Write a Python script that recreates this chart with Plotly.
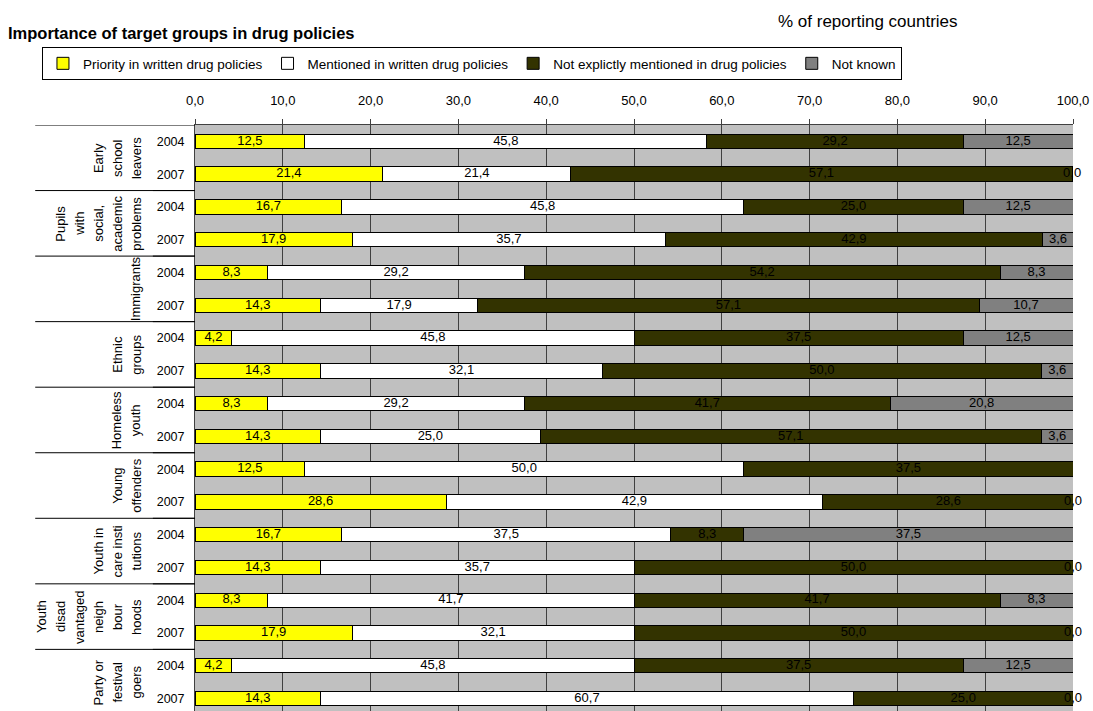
import plotly.graph_objects as go

# data (% of reporting countries)
groups = [
    ["Early", "school", "leavers"],
    ["Pupils", "with", "social,", "academic", "problems"],
    ["Immigrants"],
    ["Ethnic", "groups"],
    ["Homeless", "youth"],
    ["Young", "offenders"],
    ["Youth in", "care insti", "tutions"],
    ["Youth", "disad", "vantaged", "neigh", "bour", "hoods"],
    ["Party or", "festival", "goers"],
]
years = ["2004", "2007"] * len(groups)

priority = [12.5, 21.4, 16.7, 17.9, 8.3, 14.3, 4.2, 14.3, 8.3, 14.3,
            12.5, 28.6, 16.7, 14.3, 8.3, 17.9, 4.2, 14.3]
mentioned = [45.8, 21.4, 45.8, 35.7, 29.2, 17.9, 45.8, 32.1, 29.2, 25.0,
             50.0, 42.9, 37.5, 35.7, 41.7, 32.1, 45.8, 60.7]
not_mentioned = [29.2, 57.1, 25.0, 42.9, 54.2, 57.1, 37.5, 50.0, 41.7, 57.1,
                 37.5, 28.6, 8.3, 50.0, 41.7, 50.0, 37.5, 25.0]
not_known = [12.5, 0.0, 12.5, 3.6, 8.3, 10.7, 12.5, 3.6, 20.8, 3.6,
             None, 0.0, 37.5, 0.0, 8.3, 0.0, 12.5, 0.0]

series = [
    ("Priority in written drug policies", priority, "#FFFF00"),
    ("Mentioned in written drug policies", mentioned, "#FFFFFF"),
    ("Not explictly mentioned in drug policies", not_mentioned, "#333300"),
    ("Not known", not_known, "#808080"),
]

FONT = "Liberation Sans, Arial, sans-serif"
XMAX = 100
rows = list(range(len(years)))

fig = go.Figure()
lab_x, lab_y, lab_t = [], [], []
base = [0.0] * len(rows)
for name, vals, col in series:
    fig.add_trace(go.Bar(
        y=rows, x=vals, name=name, orientation="h", width=0.44,
        marker=dict(color=col, line=dict(color="#000000", width=1)),
        hoverinfo="x+name",
    ))
    for i, v in enumerate(vals):
        if v is None:
            continue
        # rounded shares can add up to 100.1, keep the label on the axis
        lab_x.append(min(base[i] + v / 2, XMAX))
        lab_y.append(i)
        lab_t.append(f"{v:.1f}".replace(".", ","))
        base[i] += v

fig.add_trace(go.Scatter(
    x=lab_x, y=lab_y, text=lab_t, mode="text", showlegend=False,
    cliponaxis=False,
    textfont=dict(family=FONT, size=13, color="#000000"), hoverinfo="skip",
))

# category axis separators and rotated group labels (one annotation per line)
shapes = []
annotations = []
for k, lines in enumerate(groups):
    top = 2 * k - 0.5
    shapes.append(dict(type="line", xref="paper", yref="y", x0=-0.182, x1=0,
                       y0=top, y1=top, line=dict(color="#000000", width=1)))
    shapes.append(dict(type="line", xref="paper", yref="y", x0=-0.048, x1=0,
                       y0=top + 2, y1=top + 2, line=dict(color="#000000", width=1)))
    n = len(lines)
    for j, line in enumerate(lines):
        annotations.append(dict(
            text=line, xref="paper", yref="y", x=-0.056, y=2 * k + 0.5,
            xshift=-(n - 1 - j) * 19,
            xanchor="right", yanchor="middle", textangle=-90, showarrow=False,
            font=dict(family=FONT, size=13, color="#000000"),
        ))

annotations.append(dict(
    text="% of reporting countries", xref="paper", yref="paper",
    x=0.7665, y=1.176, xanchor="center", yanchor="middle", showarrow=False,
    font=dict(family=FONT, size=17, color="#000000"),
))

fig.update_layout(
    width=1093, height=711,
    margin=dict(l=195, r=20, t=125, b=0),
    barmode="stack",
    separators=", ",
    paper_bgcolor="#FFFFFF",
    plot_bgcolor="#C0C0C0",
    font=dict(family=FONT, size=12, color="#000000"),
    title=dict(
        text="<b>Importance of target groups in drug policies</b>",
        x=8 / 1093, xanchor="left", xref="container",
        y=1 - 33 / 711, yanchor="middle", yref="container",
        font=dict(family=FONT, size=16.5, color="#000000"),
    ),
    legend=dict(
        orientation="h", x=-0.1743, y=1.133, xanchor="left", yanchor="top",
        bordercolor="#000000", borderwidth=1, bgcolor="#FFFFFF",
        font=dict(family=FONT, size=13.5), traceorder="normal",
    ),
    shapes=shapes,
    annotations=annotations,
)
fig.update_xaxes(
    side="top", range=[0, XMAX], dtick=10, tickformat=".1f",
    showgrid=True, gridcolor="#404040", gridwidth=1,
    ticks="outside", ticklen=5, tickcolor="#404040",
    showline=True, linecolor="#404040", linewidth=1,
    zeroline=False, tickfont=dict(size=13), ticklabelstandoff=9,
)
fig.update_yaxes(
    tickvals=rows, ticktext=years, range=[17.38, -0.5],
    showgrid=False, zeroline=False, ticks="",
    showline=True, linecolor="#404040", linewidth=1,
    tickfont=dict(size=12.5), ticklabelstandoff=7,
)

# drop the browser's default body margin so the figure sits at the page corner
fig.write_html(
    "out.html",
    config={"displayModeBar": False},
    post_script="document.body.style.margin = '0';",
)
